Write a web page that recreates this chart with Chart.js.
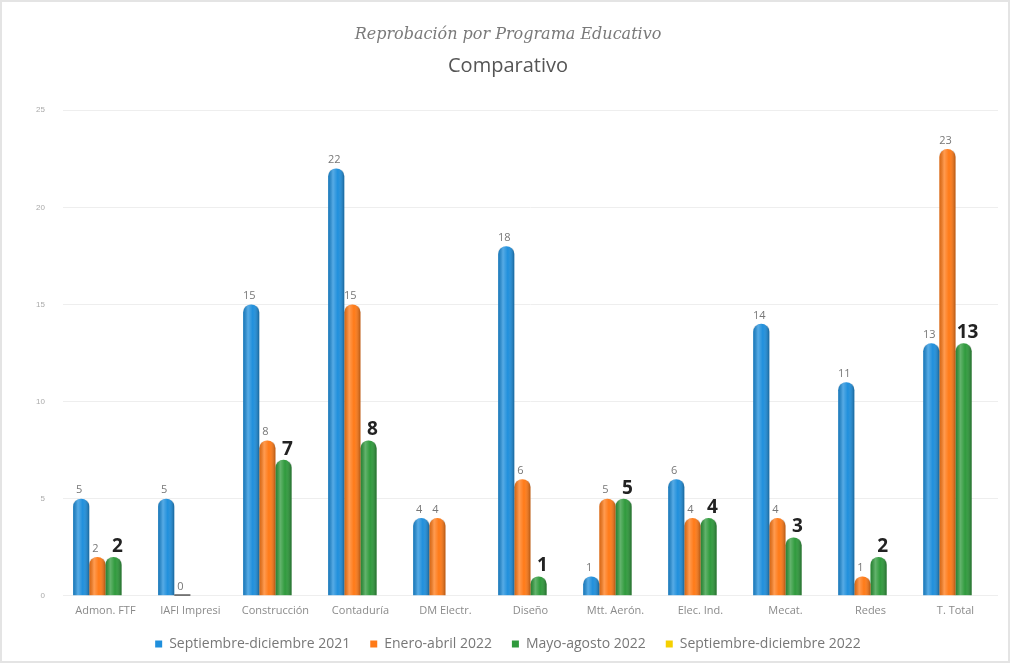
<!DOCTYPE html>
<html><head><meta charset="utf-8">
<script src="https://cdn.jsdelivr.net/npm/chart.js@4"></script>
<style>
html,body{margin:0;padding:0;background:#fff}
#wrap{position:relative;width:1006px;height:659px;border:2px solid #e4e4e4}
</style>
</head><body>
<div id="wrap"><canvas id="c"></canvas></div>
<script>
const categories = ["Admon. FTF","IAFI Impresi","Construcción","Contaduría","DM Electr.","Diseño","Mtt. Aerón.","Elec. Ind.","Mecat.","Redes","T. Total"];
const seriesNames = ["Septiembre-diciembre 2021","Enero-abril 2022","Mayo-agosto 2022","Septiembre-diciembre 2022"];
const sepDic2021 = [5,5,15,22,4,18,1,6,14,11,13];
const eneAbr2022 = [2,0,8,15,4,6,5,4,4,1,23];
const mayAgo2022 = [2,null,7,8,null,1,5,4,3,2,13];
const sepDic2022 = [null,null,null,null,null,null,null,null,null,null,null];
const yTicks = [0,5,10,15,20,25];

const colors = ["#1f8fdc","#ff7a17","#2f9a3c","#f5d000"];

const cylPlugin = {
  id:'cyl',
  afterDatasetsDraw(chart){
    const ctx = chart.ctx;
    chart.data.datasets.forEach((ds,di)=>{
      const meta = chart.getDatasetMeta(di);
      meta.data.forEach((bar,i)=>{
        const v = ds.data[i];
        if(v===null||v===undefined) return;
        const w = bar.width, x0 = bar.x - w/2, top = bar.y, bot = bar.base;
        if(bot-top>1){
          const g = ctx.createLinearGradient(x0,0,x0+w,0);
          g.addColorStop(0,'rgba(0,0,0,0.15)');
          g.addColorStop(0.3,'rgba(255,255,255,0.25)');
          g.addColorStop(0.6,'rgba(255,255,255,0.0)');
          g.addColorStop(1,'rgba(0,0,0,0.3)');
          ctx.save();
          ctx.beginPath();
          const r = Math.min(w/2, 7, (bot-top)/2);
          ctx.moveTo(x0,bot);
          ctx.lineTo(x0,top+r);
          ctx.quadraticCurveTo(x0,top,x0+w/2,top);
          ctx.quadraticCurveTo(x0+w,top,x0+w,top+r);
          ctx.lineTo(x0+w,bot);
          ctx.closePath();
          ctx.fillStyle=g; ctx.fill();
          ctx.restore();
        } else {
          ctx.save();
          ctx.fillStyle='#555';
          ctx.fillRect(x0,bot-1.5,w,1.5);
          ctx.restore();
        }
        ctx.save();
        ctx.textAlign='center';
        ctx.textBaseline='bottom';
        if(di===2){
          ctx.font='bold 19px "Open Sans", sans-serif';
          ctx.fillStyle='#222';
          ctx.fillText(String(v), bar.x+4, top-1);
        } else {
          ctx.font='11px "Open Sans", sans-serif';
          ctx.fillStyle='#777';
          ctx.fillText(String(v), bar.x-2, top-3);
        }
        ctx.restore();
      });
    });
  }
};

new Chart(document.getElementById('c'),{
  type:'bar',
  data:{
    labels:categories,
    datasets:[
      {label:seriesNames[0],data:sepDic2021,backgroundColor:colors[0]},
      {label:seriesNames[1],data:eneAbr2022,backgroundColor:colors[1]},
      {label:seriesNames[2],data:mayAgo2022,backgroundColor:colors[2]},
      {label:seriesNames[3],data:sepDic2022,backgroundColor:colors[3]}
    ]
  },
  options:{
    responsive:true,
    maintainAspectRatio:false,
    animation:false,
    layout:{padding:{left:16,right:10,top:0,bottom:0}},
    datasets:{bar:{categoryPercentage:0.76,barPercentage:1.0,
      borderRadius:{topLeft:8,topRight:8,bottomLeft:0,bottomRight:0},borderSkipped:'bottom'}},
    scales:{
      x:{grid:{display:false},border:{display:false},
        ticks:{color:'#8a8a8a',padding:0,font:{size:11,family:'"Open Sans", sans-serif'},maxRotation:0,autoSkip:false}},
      y:{min:0,max:25,
        afterBuildTicks(s){s.ticks=yTicks.map(v=>({value:v}));},
        grid:{color:'#eeeeee',drawTicks:false},border:{display:false},
        ticks:{color:'#aaaaaa',font:{size:8},padding:18}}
    },
    plugins:{
      title:{display:true,text:'Reprobación por Programa Educativo',color:'#7a7a7a',
        font:{family:'"DejaVu Serif", serif',style:'italic',size:16,weight:'normal'},padding:{top:23,bottom:10}},
      subtitle:{display:true,text:'Comparativo',color:'#555',
        font:{family:'"Open Sans", sans-serif',size:20},padding:{bottom:32}},
      legend:{position:'bottom',labels:{boxWidth:7,boxHeight:7,color:'#777',padding:20,
        font:{size:14,family:'"Open Sans", sans-serif'}}},
      tooltip:{enabled:false}
    }
  },
  plugins:[cylPlugin]
});
</script>
</body></html>
